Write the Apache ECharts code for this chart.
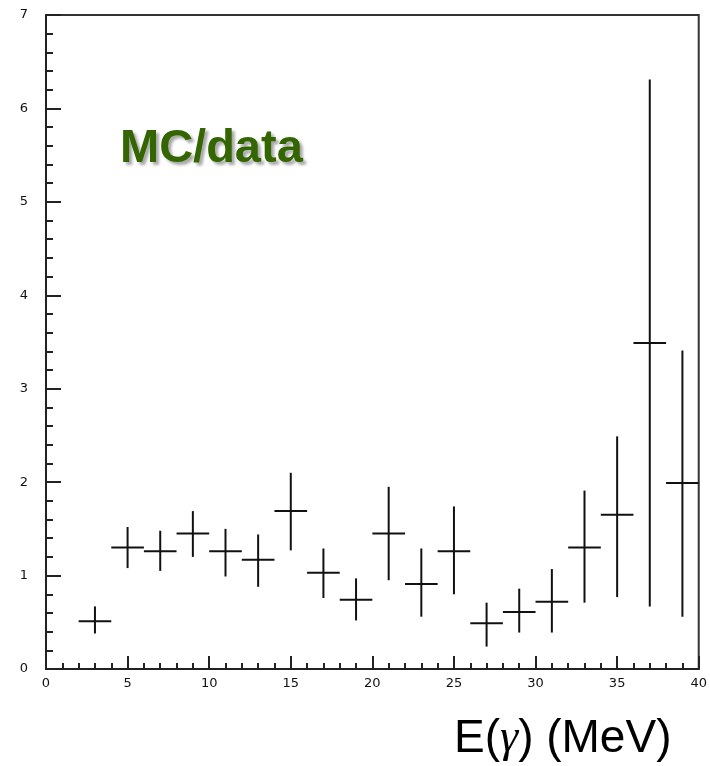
<!DOCTYPE html>
<html>
<head>
<meta charset="utf-8">
<script src="https://cdn.jsdelivr.net/npm/echarts@6/dist/echarts.min.js"></script>
<style>html,body{margin:0;padding:0;background:#fff;}#c{width:710px;height:766px;}</style>
</head>
<body>
<div id="c"></div>
<script>
// Bin centres (MeV), bin half width 1 MeV
const binCenters = [3, 5, 7, 9, 11, 13, 15, 17, 19, 21, 23, 25, 27, 29, 31, 33, 35, 37, 39];
const binHalfWidth = 1;
const ratio = [0.51, 1.30, 1.26, 1.45, 1.26, 1.17, 1.69, 1.03, 0.74, 1.45, 0.91, 1.26, 0.49, 0.61, 0.72, 1.30, 1.65, 3.49, 1.99];
const errHigh = [0.67, 1.52, 1.48, 1.69, 1.50, 1.44, 2.10, 1.29, 0.97, 1.95, 1.29, 1.74, 0.71, 0.86, 1.07, 1.91, 2.49, 6.31, 3.41];
const errLow = [0.38, 1.08, 1.05, 1.20, 0.99, 0.88, 1.27, 0.76, 0.52, 0.95, 0.56, 0.80, 0.24, 0.39, 0.39, 0.71, 0.77, 0.67, 0.56];
const xTicks = [0, 5, 10, 15, 20, 25, 30, 35, 40];
const yTicks = [0, 1, 2, 3, 4, 5, 6, 7];
const labelText = 'MC/data';
const xTitleParts = ['E(', 'γ', ') (MeV)'];

const data = binCenters.map((x, i) => [x, ratio[i], x - binHalfWidth, x + binHalfWidth, errLow[i], errHigh[i]]);

const chart = echarts.init(document.getElementById('c'), null, {renderer: 'canvas'});
const tickFont = {fontFamily: 'DejaVu Sans', fontSize: 13, color: '#111'};

chart.setOption({
  animation: false,
  backgroundColor: '#fff',
  grid: {left: 46, right: 7, top: 15, bottom: 97, show: true, borderColor: '#333', borderWidth: 2, backgroundColor: 'transparent'},
  xAxis: {
    type: 'value', min: xTicks[0], max: xTicks[xTicks.length - 1], interval: 5,
    axisLine: {show: true, onZero: false, lineStyle: {color: '#222', width: 2}},
    axisTick: {show: true, inside: true, length: 13, lineStyle: {color: '#222', width: 2}},
    minorTick: {show: true, splitNumber: 5, length: 6, lineStyle: {color: '#222', width: 2}},
    splitLine: {show: false},
    axisLabel: Object.assign({margin: 8, showMaxLabel: true, showMinLabel: true}, tickFont)
  },
  yAxis: {
    type: 'value', min: yTicks[0], max: yTicks[yTicks.length - 1], interval: 1,
    axisLine: {show: true, onZero: false, lineStyle: {color: '#222', width: 2}},
    axisTick: {show: true, inside: true, length: 15, lineStyle: {color: '#222', width: 2}},
    minorTick: {show: true, splitNumber: 5, length: 7, lineStyle: {color: '#222', width: 2}},
    splitLine: {show: false},
    axisLabel: Object.assign({margin: 18}, tickFont)
  },
  series: [{
    type: 'custom',
    data: data,
    encode: {x: [0, 2, 3], y: [1, 4, 5]},
    renderItem: function (params, api) {
      const x = api.value(0), y = api.value(1);
      const x0 = api.value(2), x1 = api.value(3);
      const y0 = api.value(4), y1 = api.value(5);
      const pL = api.coord([x0, y]);
      const pR = api.coord([x1, y]);
      const pB = api.coord([x, y0]);
      const pT = api.coord([x, y1]);
      const style = {stroke: '#111', lineWidth: 2};
      return {
        type: 'group',
        children: [
          {type: 'line', shape: {x1: pL[0], y1: pL[1], x2: pR[0], y2: pR[1]}, style: style},
          {type: 'line', shape: {x1: pB[0], y1: pB[1], x2: pT[0], y2: pT[1]}, style: style}
        ]
      };
    }
  }],
  graphic: [
    {
      type: 'text', left: 120, top: 126, z: 10,
      style: {
        text: labelText, fill: '#336600',
        font: 'bold 47px "Liberation Sans", Arial, sans-serif',
        textShadowColor: 'rgba(0,0,0,0.35)', textShadowOffsetX: 3, textShadowOffsetY: 3, textShadowBlur: 3
      }
    },
    {
      type: 'text', left: 454, top: 716, z: 10,
      style: {
        text: '{a|' + xTitleParts[0] + '}{g|' + xTitleParts[1] + '}{a|' + xTitleParts[2] + '}',
        rich: {
          a: {fontFamily: '"Liberation Sans", Arial, sans-serif', fontSize: 46, fill: '#000'},
          g: {fontFamily: '"Liberation Serif", serif', fontStyle: 'italic', fontSize: 46, fill: '#000'}
        }
      }
    }
  ]
});
</script>
</body>
</html>
